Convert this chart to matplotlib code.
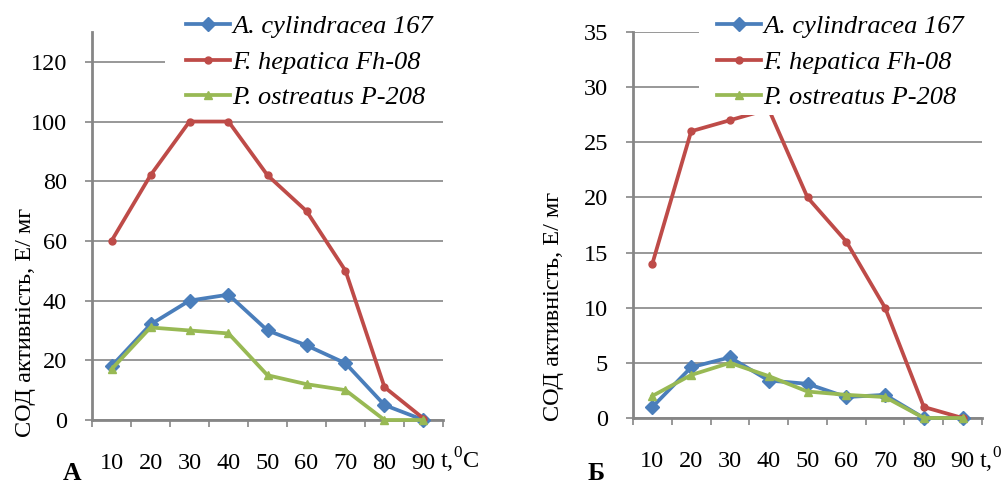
import matplotlib
matplotlib.use("Agg")
import matplotlib.pyplot as plt
from matplotlib.patches import Rectangle

plt.rcParams['font.family'] = 'Liberation Serif'
plt.rcParams['mathtext.fontset'] = 'custom'
plt.rcParams['mathtext.rm'] = 'Liberation Serif'

temps = ['10', '20', '30', '40', '50', '60', '70', '80', '90']
series_names = ['A. cylindracea 167', 'F. hepatica Fh-08', 'P. ostreatus P-208']

# Panel A
a_cyl_A = [18, 32, 40, 42, 30, 25, 19, 5, 0]
f_hep_A = [60, 82, 100, 100, 82, 70, 50, 11, 0.5]
p_ost_A = [17, 31, 30, 29, 15, 12, 10, 0, 0]

# Panel Б
a_cyl_B = [1, 4.6, 5.5, 3.4, 3.1, 1.9, 2.1, 0, 0]
f_hep_B = [14, 26, 27, 28, 20, 16, 10, 1, 0]
p_ost_B = [2, 3.9, 5, 3.8, 2.4, 2.1, 1.9, 0, 0]

ylim_A, yticks_A = 130, [0, 20, 40, 60, 80, 100, 120]
ylim_B, yticks_B = 35, [0, 5, 10, 15, 20, 25, 30, 35]

colors = ['#4A7EBB', '#BE4B48', '#98B954']
markers = ['D', 'o', '^']
msizes = [7, 5, 6]

W, H = 1002, 484
fig = plt.figure(figsize=(W / 100, H / 100), dpi=100)

def px_box(x0, x1, ytop, ybot):
    return [x0 / W, 1 - ybot / H, (x1 - x0) / W, (ybot - ytop) / H]

FS = 17.5
LFS = 19
FAM = 'Liberation Serif'
GRAY = '#868686'

def panel(rect, data, ymax, yticks, legrect, legpos, letter, letter_x, ylabel_x, ylabel_y):
    ax = fig.add_axes(rect)
    x = list(range(len(temps)))
    lines = []
    for vals, c, m, ms, name in zip(data, colors, markers, msizes, series_names):
        ln, = ax.plot(x, vals, color=c, lw=2.7, marker=m, ms=ms, mec=c, mfc=c,
                      label=name, clip_on=False, zorder=3)
        lines.append(ln)
    ax.set_xlim(-0.5, len(temps) - 0.5)
    ax.set_ylim(0, ymax)
    ax.set_yticks(yticks)
    ax.set_yticklabels([str(t) for t in yticks], fontsize=FS, family=FAM)
    ax.set_xticks(x)
    ax.set_xticklabels(temps, fontsize=FS, family=FAM)
    ax.set_xticks([i - 0.5 for i in range(len(temps) + 1)], minor=True)
    ax.tick_params(axis='x', which='major', length=0, pad=24)
    ax.tick_params(axis='x', which='minor', length=5, width=1.2, color=GRAY, direction='out')
    ax.tick_params(axis='y', length=5, width=1.2, color=GRAY, direction='out', pad=13)
    ax.grid(axis='y', color=GRAY, lw=1.2, zorder=1)
    ax.set_axisbelow(True)
    for s in ['top', 'right']:
        ax.spines[s].set_visible(False)
    for s in ['left', 'bottom']:
        ax.spines[s].set_color(GRAY)
        ax.spines[s].set_linewidth(2)
    # white legend area covering the grid
    x0, x1, yt, yb = legrect
    ax.add_patch(Rectangle((x0 / W, 1 - yb / H), (x1 - x0) / W, (yb - yt) / H,
                           transform=fig.transFigure, facecolor='white',
                           edgecolor='none', zorder=4, clip_on=False))
    leg = ax.legend(handles=lines, loc='upper left', bbox_to_anchor=legpos,
                    bbox_transform=fig.transFigure, frameon=False,
                    prop={'family': FAM, 'style': 'italic', 'size': LFS},
                    handlelength=1.65, handletextpad=0.1, labelspacing=0.45,
                    borderpad=0, borderaxespad=0, markerscale=1.0)
    leg.set_zorder(5)
    fig.text(ylabel_x / W, 1 - ylabel_y / H, 'СОД активність, Е/ мг', rotation=90,
             ha='center', va='center', fontsize=FS, family=FAM)
    fig.text(letter_x / W, 1 - 474 / H, letter, fontsize=FS + 1, fontweight='bold',
             ha='left', va='center', family=FAM)
    return ax

axA = panel(px_box(92, 443, 32, 420), [a_cyl_A, f_hep_A, p_ost_A], ylim_A, yticks_A,
            (165, 445, 4, 110), (186 / W, 1 - 15 / H), 'А', 63, 26, 322)
axB = panel(px_box(633, 982, 32, 418), [a_cyl_B, f_hep_B, p_ost_B], ylim_B, yticks_B,
            (699, 1002, 4, 115), (717 / W, 1 - 15 / H), 'Б', 588, 554, 306)

fig.text(440 / W, 1 - 460 / H, r't,$^{\mathrm{0}}$C', fontsize=FS, ha='left', va='center', family=FAM)
fig.text(979 / W, 1 - 460 / H, r't,$^{\mathrm{0}}$C', fontsize=FS, ha='left', va='center', family=FAM)

fig.savefig('out.png', dpi=100, facecolor='white')
